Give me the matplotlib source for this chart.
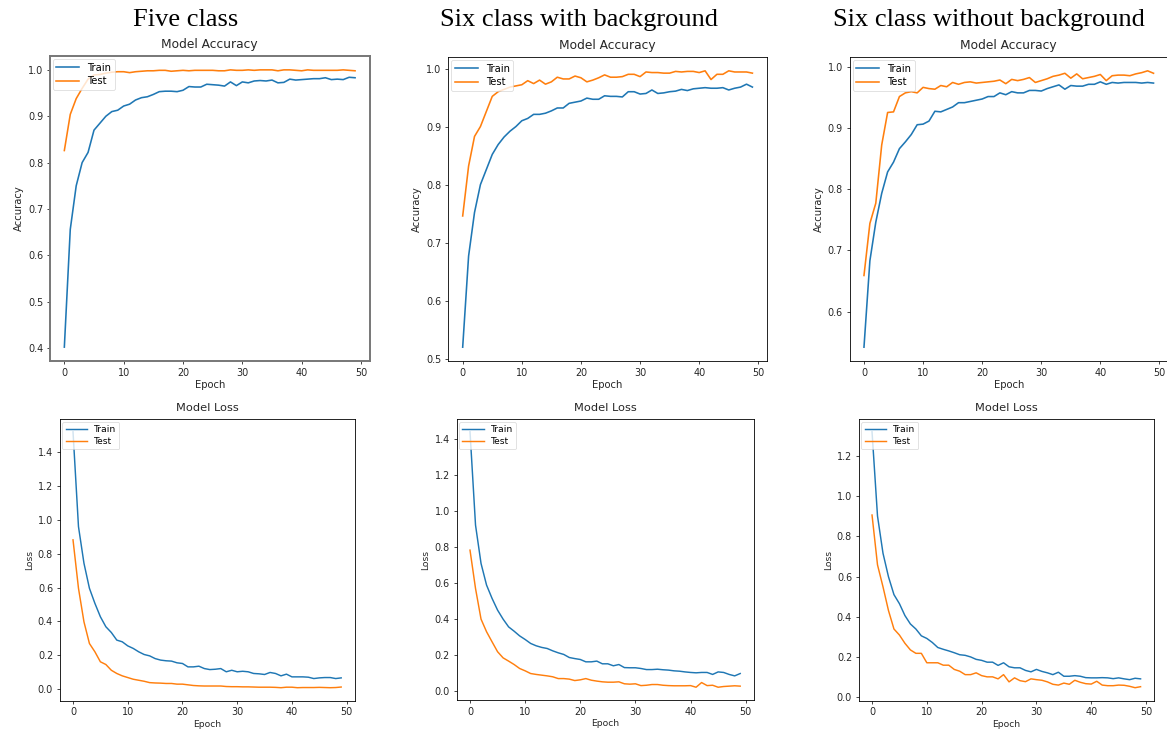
import matplotlib
matplotlib.use("Agg")
import matplotlib.pyplot as plt

epochs = list(range(50))

# Five class
acc5_train = [0.402, 0.656, 0.750, 0.800, 0.822, 0.870, 0.885, 0.900, 0.910, 0.913,
              0.922, 0.926, 0.935, 0.940, 0.942, 0.947, 0.953, 0.954, 0.954, 0.953,
              0.956, 0.964, 0.963, 0.963, 0.969, 0.968, 0.967, 0.965, 0.974, 0.966,
              0.974, 0.972, 0.976, 0.977, 0.976, 0.978, 0.972, 0.973, 0.980, 0.978,
              0.979, 0.980, 0.981, 0.981, 0.983, 0.979, 0.980, 0.979, 0.984, 0.983]
acc5_test = [0.826, 0.904, 0.938, 0.960, 0.980, 0.989, 0.990, 0.993, 0.995, 0.996,
             0.996, 0.994, 0.996, 0.997, 0.998, 0.998, 0.999, 0.999, 0.997, 0.998,
             0.999, 0.998, 0.999, 0.999, 0.999, 0.999, 0.998, 0.998, 1.000, 0.999,
             0.999, 1.000, 0.999, 1.000, 1.000, 1.000, 0.998, 1.000, 1.000, 0.999,
             0.998, 1.000, 0.999, 0.999, 0.999, 0.999, 0.999, 1.000, 0.999, 0.998]
loss5_train = [1.52, 0.96, 0.744, 0.596, 0.507, 0.428, 0.369, 0.335, 0.290, 0.280,
               0.256, 0.241, 0.221, 0.205, 0.197, 0.181, 0.172, 0.168, 0.166, 0.156,
               0.152, 0.132, 0.132, 0.136, 0.122, 0.116, 0.118, 0.122, 0.103, 0.112,
               0.103, 0.106, 0.103, 0.093, 0.091, 0.087, 0.099, 0.093, 0.079, 0.089,
               0.073, 0.073, 0.073, 0.071, 0.063, 0.067, 0.069, 0.069, 0.063, 0.067]
loss5_test = [0.882, 0.596, 0.398, 0.270, 0.221, 0.162, 0.146, 0.112, 0.093, 0.079,
              0.069, 0.059, 0.053, 0.047, 0.039, 0.037, 0.036, 0.034, 0.034, 0.030,
              0.030, 0.026, 0.022, 0.020, 0.019, 0.019, 0.019, 0.019, 0.016, 0.015,
              0.015, 0.014, 0.014, 0.013, 0.012, 0.012, 0.012, 0.011, 0.009, 0.012,
              0.012, 0.009, 0.010, 0.010, 0.010, 0.011, 0.010, 0.009, 0.010, 0.013]

# Six class with background
acc6b_train = [0.521, 0.678, 0.753, 0.801, 0.827, 0.853, 0.870, 0.883, 0.893, 0.901,
               0.911, 0.915, 0.922, 0.922, 0.924, 0.928, 0.933, 0.933, 0.941, 0.943,
               0.945, 0.950, 0.948, 0.948, 0.954, 0.953, 0.953, 0.952, 0.961, 0.961,
               0.957, 0.958, 0.964, 0.958, 0.959, 0.961, 0.962, 0.965, 0.963, 0.966,
               0.967, 0.968, 0.967, 0.967, 0.968, 0.964, 0.967, 0.969, 0.974, 0.969]
acc6b_test = [0.747, 0.833, 0.884, 0.901, 0.927, 0.953, 0.961, 0.965, 0.969, 0.971,
              0.973, 0.980, 0.975, 0.981, 0.974, 0.978, 0.986, 0.983, 0.983, 0.988,
              0.985, 0.978, 0.981, 0.985, 0.990, 0.986, 0.986, 0.987, 0.991, 0.991,
              0.987, 0.995, 0.994, 0.994, 0.993, 0.993, 0.996, 0.995, 0.996, 0.996,
              0.994, 0.997, 0.982, 0.991, 0.991, 0.997, 0.995, 0.995, 0.995, 0.993]
loss6b_train = [1.44, 0.922, 0.709, 0.589, 0.515, 0.450, 0.400, 0.357, 0.333, 0.307,
                0.287, 0.265, 0.252, 0.243, 0.237, 0.224, 0.213, 0.204, 0.187, 0.181,
                0.176, 0.163, 0.163, 0.167, 0.152, 0.152, 0.141, 0.148, 0.131, 0.130,
                0.130, 0.126, 0.120, 0.120, 0.122, 0.119, 0.117, 0.113, 0.111, 0.107,
                0.104, 0.102, 0.104, 0.104, 0.093, 0.107, 0.104, 0.093, 0.085, 0.098]
loss6b_test = [0.783, 0.570, 0.400, 0.330, 0.274, 0.219, 0.185, 0.167, 0.148, 0.126,
               0.113, 0.098, 0.093, 0.089, 0.085, 0.080, 0.070, 0.070, 0.067, 0.059,
               0.063, 0.070, 0.061, 0.056, 0.052, 0.050, 0.050, 0.052, 0.041, 0.039,
               0.041, 0.031, 0.033, 0.037, 0.037, 0.033, 0.031, 0.030, 0.030, 0.030,
               0.031, 0.022, 0.048, 0.031, 0.033, 0.022, 0.026, 0.028, 0.030, 0.028]

# Six class without background
acc6n_train = [0.542, 0.683, 0.746, 0.793, 0.828, 0.844, 0.866, 0.877, 0.889, 0.905,
               0.906, 0.911, 0.927, 0.926, 0.930, 0.934, 0.941, 0.941, 0.943, 0.945,
               0.947, 0.951, 0.951, 0.957, 0.954, 0.959, 0.957, 0.957, 0.961, 0.961,
               0.960, 0.964, 0.967, 0.970, 0.963, 0.969, 0.968, 0.968, 0.971, 0.971,
               0.975, 0.971, 0.974, 0.973, 0.974, 0.974, 0.974, 0.973, 0.974, 0.973]
acc6n_test = [0.659, 0.744, 0.777, 0.872, 0.925, 0.926, 0.951, 0.957, 0.959, 0.957,
              0.966, 0.964, 0.963, 0.969, 0.967, 0.974, 0.971, 0.974, 0.975, 0.973,
              0.974, 0.975, 0.976, 0.978, 0.972, 0.979, 0.977, 0.979, 0.982, 0.974,
              0.977, 0.980, 0.984, 0.986, 0.989, 0.981, 0.988, 0.980, 0.982, 0.984,
              0.987, 0.977, 0.985, 0.986, 0.986, 0.985, 0.988, 0.990, 0.993, 0.989]
loss6n_train = [1.32, 0.901, 0.716, 0.599, 0.510, 0.465, 0.406, 0.364, 0.339, 0.305,
                0.292, 0.272, 0.247, 0.238, 0.230, 0.221, 0.211, 0.208, 0.200, 0.188,
                0.183, 0.174, 0.174, 0.158, 0.171, 0.151, 0.146, 0.146, 0.133, 0.126,
                0.138, 0.128, 0.121, 0.112, 0.124, 0.104, 0.104, 0.107, 0.104, 0.097,
                0.096, 0.096, 0.097, 0.096, 0.092, 0.096, 0.091, 0.087, 0.094, 0.091]
loss6n_test = [0.906, 0.658, 0.549, 0.431, 0.339, 0.309, 0.268, 0.235, 0.218, 0.218,
               0.171, 0.171, 0.171, 0.159, 0.159, 0.138, 0.129, 0.112, 0.112, 0.121,
               0.107, 0.101, 0.101, 0.091, 0.112, 0.076, 0.096, 0.082, 0.077, 0.091,
               0.087, 0.084, 0.076, 0.064, 0.060, 0.070, 0.064, 0.084, 0.074, 0.067,
               0.065, 0.079, 0.060, 0.057, 0.057, 0.060, 0.059, 0.054, 0.047, 0.052]

col_titles = ["Five class", "Six class with background", "Six class without background"]
acc_sets = [(acc5_train, acc5_test), (acc6b_train, acc6b_test), (acc6n_train, acc6n_test)]
loss_sets = [(loss5_train, loss5_test), (loss6b_train, loss6b_test), (loss6n_train, loss6n_test)]
xticks = [0, 10, 20, 30, 40, 50]

W, H = 1167, 731
fig = plt.figure(figsize=(W / 100, H / 100), dpi=100)

def rect(l, r, t, b):
    return [l / W, (H - b) / H, (r - l) / W, (b - t) / H]

top_rects = [rect(49.8, 369.6, 56, 361), rect(448.2, 766.9, 57, 361), rect(849.5, 1168, 57, 361)]
bot_rects = [rect(59.6, 354.6, 419, 700.5), rect(456.5, 753.7, 419, 700), rect(858.6, 1154, 419, 700.5)]

BLUE = "#1f77b4"
ORANGE = "#ff7f0e"
TXT = "#262626"

def style(ax, fs, title, ylabel, spine_color="black", spine_w=0.6):
    ax.set_title(title, fontsize=fs["title"], pad=5.5, color=TXT)
    ax.set_xlabel("Epoch", fontsize=fs["label"], labelpad=2, color=TXT)
    ax.set_ylabel(ylabel, fontsize=fs["label"], labelpad=3, color=TXT)
    ax.tick_params(labelsize=fs["tick"], length=2.5, width=0.6, colors=TXT, pad=2.2)
    for sp in ax.spines.values():
        sp.set_color(spine_color)
        sp.set_linewidth(spine_w)
    leg = ax.legend(["Train", "Test"], loc="upper left", fontsize=fs["legend"],
                    borderaxespad=0.3, handlelength=2.3, borderpad=0.35,
                    labelspacing=0.35, fancybox=True, framealpha=0.8)
    leg.get_frame().set_linewidth(0.5)

top_fs = dict(title=8.85, tick=6.9, label=7.2, legend=7.2)
bot_fs = dict(title=8.2, tick=6.9, label=6.6, legend=6.6)

for i in range(3):
    ax = fig.add_axes(top_rects[i])
    tr, te = acc_sets[i]
    ax.plot(epochs, tr, color=BLUE, lw=1.15)
    ax.plot(epochs, te, color=ORANGE, lw=1.15)
    if i == 0:
        style(ax, top_fs, "Model Accuracy", "Accuracy", spine_color="#777777", spine_w=1.4)
    else:
        style(ax, top_fs, "Model Accuracy", "Accuracy")
    ax.set_xticks(xticks)

    ax2 = fig.add_axes(bot_rects[i])
    tr, te = loss_sets[i]
    ax2.plot(epochs, tr, color=BLUE, lw=1.05)
    ax2.plot(epochs, te, color=ORANGE, lw=1.05)
    style(ax2, bot_fs, "Model Loss", "Loss")
    ax2.set_xticks(xticks)

centers = [186, 579, 989]
for c, t in zip(centers, col_titles):
    fig.text(c / W, 1 - 20 / H, t, ha="center", va="center",
             fontsize=19, family=["Liberation Serif", "DejaVu Serif"])

fig.savefig("out.png", dpi=100)
